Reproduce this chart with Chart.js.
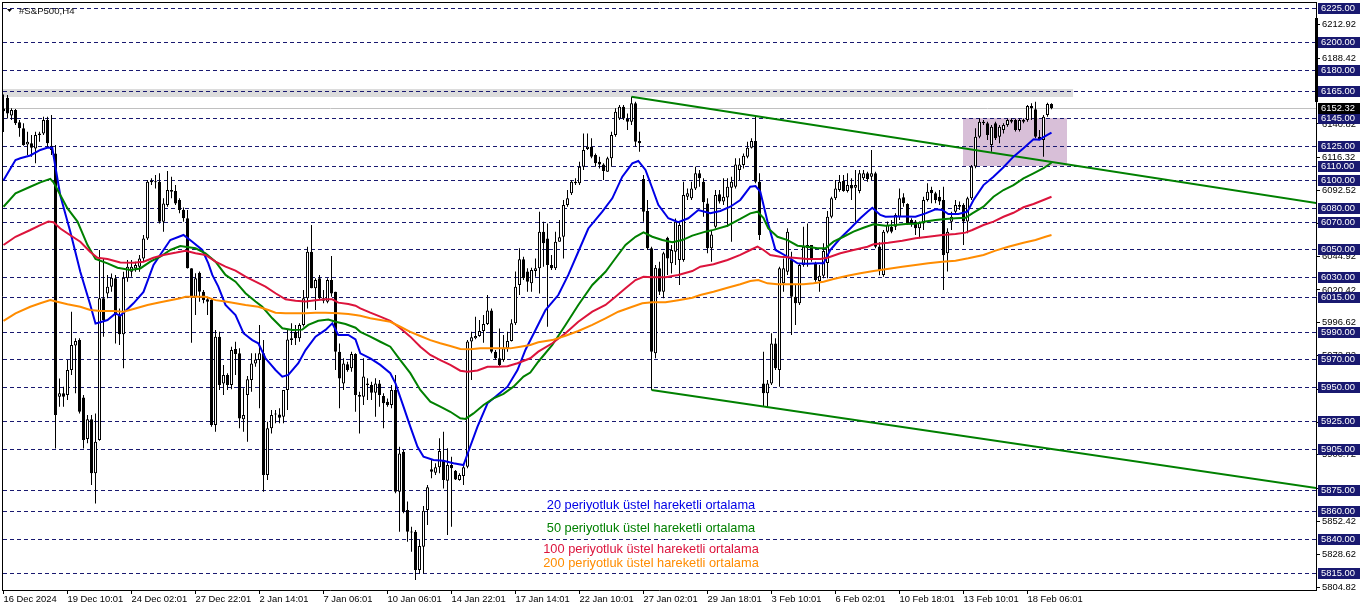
<!DOCTYPE html>
<html><head><meta charset="utf-8">
<script src="https://cdn.jsdelivr.net/npm/chart.js@4.4.1/dist/chart.umd.min.js"></script>
<style>html,body{margin:0;padding:0;background:#fff;}canvas{display:block;}</style>
</head><body>
<canvas id="c" width="1362" height="611"></canvas>
<script>
// ---------- DATA ----------
const dateLabels = ['16 Dec 2024','19 Dec 10:01','24 Dec 02:01','27 Dec 22:01','2 Jan 14:01','7 Jan 06:01','10 Jan 06:01','14 Jan 22:01','17 Jan 14:01','22 Jan 10:01','27 Jan 02:01','29 Jan 18:01','3 Feb 10:01','6 Feb 02:01','10 Feb 18:01','13 Feb 10:01','18 Feb 06:01'];
const dateTickIndex = [0,16,32,48,64,80,96,112,128,144,160,176,192,208,224,240,256];

const openP = [
6152,6159.9,6146.9,6151,6142,6137.7,6126,6126.8,6123.1,6132.8,
6134,6143.7,6125,6119.5,5942.9,5945.4,5944.1,5962.3,5980,5984.1,
5942.4,5912.2,5926.5,5887.3,5911.5,6014.3,6017.9,6022.8,6028.8,6002.2,
5988.2,6028.8,6033.6,6036,6037.3,6043.3,6057.8,6098.5,6099,6099,
6069.9,6082,6093,6092.2,6085.7,6078.4,6072.4,6036.1,6015.5,6032.9,
6019.1,6013.6,6013.1,5922.4,5986.5,5952.6,5958.7,5951.4,5977.5,5974.4,
5926.5,5944.1,5955,5967.1,5969.5,5974.4,5886.1,5920,5930,5930.1,
5928.4,5947.8,5984.1,5990.1,5985.3,5995,6014.3,6048.2,6021.6,6028.8,
6014.3,6011.9,6027.6,6019.1,5975.6,5952.6,5966.4,5963.5,5973.9,5944.2,
5942.9,5952.6,5951.4,5945.8,5952.6,5943.4,5939.3,5936.9,5947.8,5874,
5903,5860.7,5845,5845,5817.2,5834.1,5860.7,5890.2,5887.8,5891.7,
5896.3,5882,5893.4,5889.2,5882.5,5885.4,5892.1,5982.9,5985.3,5987,
5990.6,5995.7,6005.4,5975.6,5970.8,5969.6,5978,5983.3,5996.2,6024,
6042.6,6033.7,6025.2,6034.1,6036.1,6062.7,6057.8,6038.5,6036.1,6055.4,
6059,6082,6090.5,6099,6097.8,6109.8,6122.7,6124.4,6118.3,6113.5,
6111.5,6106.2,6115.9,6132.8,6144.9,6153.4,6144.9,6142.5,6155.8,6128.5,
6100.9,6077.7,6050.6,5974.4,6036.1,6019.1,6058.3,6039.7,6048.2,6042.1,
6042.1,6088.1,6086.9,6094.1,6105,6099,6083.2,6050.6,6066.3,6089.8,
6084.5,6087.4,6094.6,6095.3,6107.4,6111,6117.1,6123.6,6128.5,6099,
5952.6,5945.4,5952.6,5981.6,5962.3,6025.2,6033.6,6042.1,6015.5,6010.7,
6038.5,6050.6,6053,6039.7,6026.9,6030.7,6040,6073.6,6086.9,6092.9,
6099.4,6092.2,6096.5,6094.6,6092.2,6101.4,6105,6102.6,6105,6052,
6031.2,6062.7,6066.3,6066.3,6073.6,6087.6,6082.8,6071.2,6070,6065.1,
6068.7,6085.7,6092.9,6090.5,6088.1,6085.7,6047,6069.9,6077.2,6082,
6082,6070,6086.9,6109.9,6131.6,6141.3,6141.3,6125.6,6141.3,6131.6,
6136.5,6140.1,6142.5,6143.7,6136.5,6143.7,6143.7,6153.9,6151.5,6131.6,
6129.2,6147.3,6155.3];
const highP = [
6162.3,6161.8,6152.2,6151.7,6143.7,6141.3,6135.2,6132.8,6135.2,6135.2,
6146.1,6146.1,6147.3,6125.6,5956.2,5950.2,5969.5,6004.6,5985.3,5985.3,
5944.1,5929.6,5929.6,5930.8,6049.4,6043.3,6031.2,6032.4,6031.2,6007,
6033.6,6042.1,6042.1,6040.9,6045.7,6060.3,6100.2,6101.4,6103.8,6105,
6086.9,6106.7,6102.6,6096.5,6086.9,6080.3,6078.4,6036.1,6032.5,6033.7,
6020.4,6015.5,6014.3,5991.3,5990.1,5965.9,5959.9,5979.2,5982.8,5978,
5949,5957.9,5974.4,5974.4,5994.9,5984.1,5924.8,5933.3,5933.3,5934.5,
5947.8,5991.3,5996.2,5995,5996.2,6020.4,6051.8,6067.5,6028.8,6031.2,
6020.4,6028.8,6045,6019.1,5981.6,5970.8,5968.3,5975.6,5974.4,5946.6,
5970.8,5956.3,5953.8,5956.3,5955,5945.4,5941.7,5951.4,5958.7,5906.7,
5904.2,5866.8,5848.6,5846.2,5838.9,5863.6,5878.8,5897,5894.6,5912.7,
5917.5,5905.5,5899.4,5889.7,5887.3,5894.6,5984.1,5990.1,6001,5998.6,
6002.2,6016.7,6007,5976.8,5992.5,5987.7,5990.1,5999.1,6033.7,6050.6,
6044.5,6036.1,6036.5,6043.3,6077.2,6069.9,6068.7,6045.7,6062.7,6071.1,
6085.7,6092.9,6100.2,6101.4,6113.5,6134,6134,6130.4,6119.5,6117.1,
6112.3,6117.1,6135.2,6152.2,6154.6,6154.6,6148.5,6160.6,6157,6135.2,
6103.8,6085.7,6051.8,6038.5,6040.9,6048.2,6059,6053,6072.3,6069.9,
6099,6094.1,6099,6109.8,6107.4,6101.4,6086.9,6063.9,6092.9,6092.9,
6101.4,6101.4,6102.6,6115.9,6115.9,6119.5,6128,6130.4,6146.1,6105,
5975.6,5955,5988.9,5985.3,6037.3,6043.3,6065.1,6048.2,6024,6039.7,
6066.3,6068.7,6053,6040.9,6038.5,6054.2,6077.7,6088.1,6100.2,6103.8,
6103.8,6105,6101.4,6107.4,6107.4,6107.4,6106.2,6121.9,6106.2,6055,
6063.9,6070,6071.2,6076,6094.1,6090.5,6083.3,6072.4,6071.2,6070,
6088.1,6097.8,6095.3,6091.7,6092.9,6095.3,6065.1,6077.2,6085.7,6084.5,
6083.3,6088.1,6111.1,6137.7,6144.9,6143.7,6142.5,6140.1,6142.5,6140.1,
6141.3,6144.9,6144.9,6144.9,6144.9,6144.9,6154.6,6155.8,6157,6136.5,
6147.3,6156.3,6155.8];
const lowP = [
6135,6144.9,6143.7,6140.1,6131.6,6125.1,6118.3,6117.1,6112.3,6128,
6132.8,6124.4,6118.3,5905.4,5935.7,5935.7,5940.5,5958.7,5945.4,5930.8,
5905.4,5909.1,5878.8,5865.5,5911,5986.5,6014.3,6019.1,5981.6,5980.4,
5963.5,6026.4,6030,6033.6,6033.6,6040.9,6056.6,6096.5,6094.1,6068.7,
6062.7,6080.8,6086.9,6082,6076,6069.9,6036,5982.1,6002.2,6011.9,
6010.7,6002.2,5921.2,5917.5,5947.8,5944.1,5947.8,5948.3,5958.7,5920,
5917.5,5910.3,5946.6,5964.7,5934.5,5874,5882.5,5916.3,5923.6,5923.6,
5923.6,5933.3,5980.4,5980.4,5982.8,5993.8,6007,6021.6,6005.8,6013.1,
6010.7,6010.7,6015.5,5962.3,5934.5,5947.8,5961.1,5961.1,5932.1,5916.3,
5936.9,5940.5,5940.5,5928.4,5935.7,5920,5935.7,5934.5,5872.8,5845,
5858.3,5837.7,5830.5,5809.9,5814.7,5814.7,5849.8,5883.7,5886.1,5887.3,
5876.4,5842.5,5848.6,5882.5,5882,5878.8,5891,5955,5984.6,5986.5,
5982.1,5995,5974.4,5969.6,5964.7,5968.3,5975.6,5982.9,5995,6016.7,
6027.6,6019.1,6019.1,6030,6017.9,6037.3,5993.7,6034.9,6034.9,6055.4,
6043.3,6080.8,6089.3,6096.5,6096.5,6107.4,6121.9,6115.9,6109.8,6108.6,
6100.2,6106.2,6109.8,6131.6,6143.7,6143.7,6136.5,6140.1,6124.3,6120.7,
6069.9,6049.4,5947.8,5970.8,6016.7,6014.3,6031.2,6032.4,6038.5,6023.9,
6040.9,6085.7,6085.7,6092.9,6095.3,6073.5,6047,6040.9,6065.1,6083.2,
6082,6066.3,6055.4,6094.1,6100.2,6108.6,6115.9,6123.1,6097.8,6056.6,
5935.7,5935.7,5951.4,5962.3,5950.2,6019.1,6031.2,5987.7,5994.9,6009.5,
6037.3,6037.3,6040.9,6026.4,6019.1,6028.8,6028.8,6072.4,6085.7,6091.7,
6091.7,6091.2,6085.7,6069.9,6090.5,6100.2,6099,6100.2,6050.6,6031,
6030,6061.5,6061.5,6063.9,6071.2,6080.8,6067.5,6066.3,6060.3,6057.9,
6063.9,6084.5,6083.3,6083.3,6082,6020.4,6033.7,6063.9,6074.8,6078.4,
6053,6061.5,6085.7,6108.7,6130.4,6140.1,6129.2,6120.7,6129.2,6126.8,
6134,6138.9,6141.3,6135.3,6135.3,6141.3,6142.5,6143.7,6130.4,6129.2,
6117.1,6146.1,6151.5];
const closeP = [
6150,6148.5,6151,6141.3,6137.7,6125.6,6128,6123.6,6132.8,6134,
6143.7,6126.8,6122,5929.6,5945.4,5942.9,5962.3,5980.4,5983.3,5932.1,
5911.5,5926.5,5887.3,5910.3,6014.3,5998.6,6022.8,6029.3,6002.2,5988.2,
6029.3,6037.3,6037.3,6038.5,6043.3,6057.8,6099,6099.7,6098.5,6069.9,
6083.2,6093,6091.7,6083.2,6078.4,6072.4,6036.1,6015.5,6028.8,6019.1,
6013.1,6011.9,5922.4,5986.5,5951.4,5958.7,5951.4,5976.8,5973.9,5927.2,
5929.6,5955.6,5967.1,5970,5974.4,5886.1,5920,5929.6,5930.4,5927.7,
5947.8,5984.5,5985.3,5985.3,5995,6014.3,6048.2,6021.6,6027.6,6014.3,
6012.6,6027.6,6017.9,5975.6,5956.2,5967.1,5962.3,5973.9,5944.2,5942.9,
5957.5,5951.4,5945.8,5952.6,5944.2,5938.1,5936.9,5947.8,5874,5901.8,
5859.5,5845,5844.3,5817.2,5834.6,5860.2,5877.2,5888.5,5891.7,5903.5,
5882.5,5893.4,5891,5882.9,5886.1,5891.7,5982.9,5986,5987,5990.6,
5995.7,6005.4,5975.6,5970.8,5965.9,5978,5983.3,5996.2,6022.8,6042.6,
6028.8,6026.4,6034.9,6036.1,6062.7,6054.2,6038.5,6036.1,6055.4,6058.6,
6082,6086.9,6098.9,6097.8,6109.8,6121.9,6124.4,6117.1,6112.3,6111.5,
6106.7,6115.9,6132.8,6149.7,6153.4,6144.9,6142.5,6155.8,6128,6126.8,
6077.2,6050.6,5975.6,6036.5,6019.1,6047,6043.3,6049.4,6069.9,6067.5,
6089.3,6090.5,6094.1,6105,6101.4,6084,6050.6,6060.7,6089.3,6084.5,
6088.1,6095.3,6099,6111.5,6111.5,6117.8,6123.6,6128.5,6099,6060.3,
5945.4,5952.6,5981.6,5963.5,6036.1,6036.1,6062.7,6015.5,6010.7,6038.5,
6051.8,6053,6043.3,6027.6,6030.7,6048.7,6073.6,6086.9,6094.1,6099,
6092.2,6096.5,6094.1,6096.5,6105,6105,6100.9,6105,6051.8,6034,
6062.7,6067.5,6062.7,6074.8,6086.9,6083.3,6068.7,6068.7,6065.1,6069.2,
6085.7,6091.7,6090.5,6085.7,6084.5,6045.8,6062.7,6073.6,6082,6080.8,
6070,6086.9,6109.9,6131.6,6142.5,6142.5,6132.8,6138.9,6130.4,6138.9,
6140.1,6143.7,6143.7,6136.5,6143.7,6142.5,6153.9,6152.2,6131.6,6129.2,
6146.1,6155.3,6152.32];

// EMA readings: [bar index, value]
const ema20 = [[0,6100],[3,6114.7],[4.2,6116],[6.7,6118],[9.2,6122],[10.9,6123.6],[12.2,6123.6],[12.9,6111],[14.2,6089],[16.7,6062.7],[19.2,6033.6],[21.7,6009.5],[23,5996],[24.2,5997],[26,5998.6],[28,6003.4],[29.2,6001.6],[31,6006.5],[32.5,6010.7],[35,6019],[37.5,6038.5],[40,6049.4],[41.7,6056.6],[45,6060.3],[47.2,6055.4],[49.7,6049.4],[51.2,6039.7],[52.2,6031.3],[53.7,6022.8],[55.5,6009.5],[58,6002.2],[60,5989],[62.2,5984],[63.7,5981.7],[65.5,5970.8],[68,5962.3],[69.7,5957.5],[71.2,5958.7],[73.7,5967.2],[75.5,5976.8],[78,5986.5],[80.5,5991.4],[82.2,5996.2],[83.7,5987.7],[86.2,5987.7],[88,5984.5],[89.2,5974.4],[91.7,5970.8],[94.2,5966],[96.7,5960],[98,5952.6],[100,5935.7],[101.7,5921.2],[103.5,5906.6],[105,5899.4],[107.5,5897],[110,5896.4],[112.5,5894.6],[115,5893.3],[116.2,5903],[118.5,5921.2],[121,5938.1],[123.5,5944.2],[126,5950.2],[128.5,5962.3],[130.5,5977],[133,5991.3],[135.5,6005.8],[138.7,6016.7],[141.2,6031.3],[143.7,6048.1],[146.2,6065],[149.7,6077.2],[152.2,6086.9],[154.7,6102.6],[157.2,6112.3],[158.7,6114],[160.5,6107.5],[162.2,6094.2],[163.7,6082.2],[166.2,6072.4],[168.7,6069.5],[171.2,6072.4],[173.7,6078.4],[176.7,6076],[179.2,6077.7],[181.7,6080.8],[184.2,6085.7],[186.7,6095.3],[188,6095.8],[189.2,6091.7],[191,6070],[193,6049.4],[196,6044.5],[198.5,6039.7],[201,6039.4],[203.5,6039.7],[205,6039.7],[206.7,6049.4],[209.2,6057.9],[211.7,6065],[214.2,6072.4],[216,6077.2],[217.2,6080],[219.2,6074.8],[220.5,6073.5],[223,6073.7],[225.5,6073.7],[228,6073.5],[230.5,6076],[233,6078.9],[234.7,6078.4],[236.2,6075.5],[238.7,6075.5],[241,6077.2],[242.5,6085.7],[245,6096.5],[247.5,6102.6],[250,6109.4],[252.5,6117.1],[255,6123.2],[257.5,6129.7],[259,6129.4],[260.2,6131.6],[262,6134.5]];
const ema50 = [[0,6080.8],[3,6090.5],[6.7,6095.3],[9.2,6098.5],[11.7,6101],[12.5,6098.5],[14.2,6089.3],[16,6079.6],[18.5,6070],[21,6053],[23,6042.9],[26,6039.7],[28.5,6036.5],[31.7,6034.9],[34.2,6036],[36.7,6040.9],[39.2,6044.5],[41.7,6049.4],[44.2,6052.3],[48,6050.6],[50.5,6047],[53,6040.9],[55.5,6031.3],[58,6026.4],[60.5,6018],[63,6012],[64.7,6008.2],[67.2,5999.8],[69.7,5992.6],[72.2,5991.4],[74.7,5991.6],[76.2,5995],[78.7,5998],[81.2,5999],[83,5997.3],[85.5,5995.7],[88,5993],[89.2,5990],[91.7,5986.5],[94.2,5982.8],[96.7,5979.2],[99.2,5969.5],[101.7,5960],[104.2,5947.8],[106.7,5939.3],[109.2,5935.7],[111.7,5932],[114.2,5927.3],[115.5,5926.8],[117.5,5930.8],[120,5936.9],[122.5,5941.7],[125,5945],[127.5,5950.2],[130,5957.5],[131.7,5960.5],[133.7,5968.3],[137.2,5980.5],[140.5,5995],[143.7,6009.5],[147.2,6024],[150.5,6033.6],[153,6043.4],[155.5,6053],[158,6059],[160,6062.2],[162.2,6059],[164.7,6056.6],[167.2,6055],[169.7,6056.6],[172.2,6059.8],[175.5,6062.7],[177.5,6064],[181,6067],[184.2,6071.9],[186.7,6076],[188.5,6077.2],[190,6072.6],[191.2,6065],[193.5,6059],[196,6056.6],[198.5,6052.5],[201,6051.8],[203.5,6050.6],[205.5,6050.6],[207.5,6055.4],[210,6059],[212.5,6062.7],[215,6065.5],[217.5,6068],[220.5,6067],[223,6067.5],[225.5,6068.2],[228,6068.5],[230.5,6070],[233,6071.2],[235.5,6071.9],[238,6072.4],[240.5,6072.7],[242.2,6076],[245,6080.8],[247.5,6088],[250,6092.9],[252.5,6096.5],[255,6101.4],[257.5,6105],[260,6108.7],[262,6112.7]];
const ema100 = [[0,6053],[3,6059],[6.7,6063.9],[9.2,6067.5],[11.2,6070],[12.5,6069.5],[14.2,6065],[16.7,6060.1],[19.2,6055.4],[21.7,6048],[23.5,6043.8],[26,6042.9],[29.2,6040.4],[32.5,6040.2],[35,6040.9],[37.5,6043.8],[40,6045.8],[43.2,6047.5],[45.5,6048.9],[48,6047],[50.5,6045.8],[53,6040.9],[55.5,6037.3],[58,6034.4],[60.5,6030],[63,6026.4],[65.5,6022.8],[68,6018],[70.5,6013.6],[73,6012.6],[75.5,6012],[78,6013],[80.5,6013.6],[82.2,6013.6],[83.7,6011.2],[86.2,6010.2],[88,6009],[89.2,6007],[91.7,6003.9],[94.2,6001],[96.7,5998],[99.2,5992.6],[101.7,5986.5],[104.2,5979.2],[106.7,5973.2],[109.2,5969.5],[111.7,5966],[114.2,5961.8],[116,5961],[118.5,5962],[121,5964.7],[123.5,5964.7],[126,5965],[128.5,5967.2],[131.7,5970.8],[133.7,5975.6],[137.2,5981.7],[140.5,5989],[143.7,5997.3],[147.2,6004.6],[150.5,6009.5],[153,6015.5],[155.5,6021.6],[158,6027.6],[160,6030],[162.2,6029.6],[165.5,6029.6],[168.7,6031.3],[172.2,6034.1],[174.2,6037.3],[177.5,6039],[181,6042.1],[184.2,6045.8],[186.7,6049.4],[188.5,6051.8],[190,6049.4],[191.7,6045.8],[194.2,6044.5],[197.5,6043.8],[201,6042.9],[204.2,6042.9],[206,6043.8],[209.2,6047],[212.5,6049.4],[216,6051.8],[217.5,6053.5],[221.2,6054.7],[224.7,6056.1],[228,6057.9],[231.2,6059],[234.7,6060.3],[238,6061],[240.5,6062],[242.2,6063.9],[245,6067.5],[247.5,6070],[250,6073.5],[252.5,6076.4],[255,6080.4],[257.5,6082.8],[260,6085.7],[262,6088]];
const ema200 = [[0,5997.9],[3,6003.4],[6.7,6008.2],[9.2,6010.7],[11.7,6013],[12.9,6012.2],[16,6010],[19.2,6008.2],[21.7,6005.8],[24.2,6005.1],[27.5,6005.1],[30,6004.6],[32.5,6006.6],[36,6009.5],[39.2,6011.4],[44.2,6014.3],[45.5,6015.5],[48,6015.5],[50.5,6015.5],[53,6013],[55.5,6012],[58,6010.7],[60.5,6009.5],[63.7,6008.2],[66.2,6005.8],[68,6003.9],[70.5,6003.4],[73,6003.4],[75.5,6003.4],[78,6003.9],[80.5,6003.9],[83.7,6003.4],[86.2,6003],[88,6002.2],[89.2,6001.6],[91.7,5999.8],[94.2,5998.6],[96.7,5997.3],[99.2,5993.7],[101.7,5990],[104.2,5987],[106.7,5984],[109.2,5981.7],[111.7,5979.7],[114.2,5977.5],[116.7,5977.3],[119.2,5978],[124.2,5978],[126.7,5978],[129.2,5979.2],[131.7,5980.4],[133.7,5982.4],[137.2,5984],[140.5,5987.2],[143.7,5990.6],[147.2,5995],[150.5,5999.8],[153.7,6004.6],[157.2,6008.2],[159.7,6010.7],[162.2,6011.4],[165.5,6011.4],[168.7,6013],[172.2,6014.8],[174.2,6016.7],[177.5,6019.1],[181,6022],[184.2,6024.5],[186.7,6026.9],[188.7,6027.6],[191,6025.2],[193.5,6024.5],[196.7,6024.5],[200,6024.5],[202.5,6025.2],[205,6026.4],[207.5,6028.3],[211,6030.7],[214.2,6032.5],[217.5,6034.1],[220.5,6035.4],[224.7,6037.3],[228,6038.5],[231.2,6039.7],[234.7,6040.9],[238,6041.6],[241.2,6043.4],[245,6045.8],[248,6048.9],[251.2,6051.8],[255,6054.7],[258,6056.6],[260.5,6059],[262,6060.3]];

const upperTrend = [[157,6160.6],[328.2,6083.5]];
const lowerTrend = [[162,5947.8],[328.2,5876.7]];
const levels = [6225,6200,6180,6165,6145,6125,6110,6100,6080,6070,6050,6030,6015,5990,5970,5950,5925,5905,5875,5860,5840,5815];
const axisTicks = [6212.92,6188.42,6164.62,6140.82,6116.32,6092.52,6068.72,6044.92,6020.42,5996.62,5972.82,5948.32,5924.52,5900.72,5876.22,5852.42,5828.62,5804.82];
const lastPrice = 6152.32;
const bandPrices = [6166, 6160.3];
const bandBars = [-0.4, 267.4];
const boxPrices = [6145, 6110];
const boxBars = [239.9, 265.9];
const legendTexts = ['20 periyotluk üstel hareketli ortalama','50 periyotluk üstel hareketli ortalama','100 periyotluk üstel hareketli ortalama','200 periyotluk üstel hareketli ortalama'];
const symbolTitle = '#S&P500,H4';

// ---------- STYLE ----------
const NAVY = 'rgb(25,25,112)';
const C20 = 'rgb(0,0,230)', C50 = 'rgb(0,128,0)', C100 = 'rgb(220,20,60)', C200 = 'rgb(255,140,0)';
const AXFONT = '9.4px "Liberation Sans"';
Chart.defaults.font.family = '"Liberation Sans", Arial, sans-serif';

const toXY = arr => arr.map(([x, y]) => ({x, y}));
const wickData = highP.map((h, i) => ({x: i, y: [lowP[i], h]}));
const bodyData = openP.map((o, i) => ({x: i, y: [o, closeP[i]]}));
const bodyFill = openP.map((o, i) => closeP[i] >= o ? '#ffffff' : '#000000');

const overlay = {
  id: 'overlay',
  beforeDatasetsDraw(chart) {
    const {ctx, chartArea: a, scales: {x, y}} = chart;
    ctx.save();
    ctx.beginPath(); ctx.rect(a.left, a.top, a.right - a.left, a.bottom - a.top); ctx.clip();
    ctx.fillStyle = '#dcdcdc';
    let x1 = x.getPixelForValue(bandBars[0]), x2 = x.getPixelForValue(bandBars[1]);
    let y1 = y.getPixelForValue(bandPrices[0]), y2 = y.getPixelForValue(bandPrices[1]);
    ctx.fillRect(x1, Math.round(y1), x2 - x1, Math.round(y2 - y1));
    ctx.fillStyle = 'rgb(216,191,216)';
    x1 = Math.round(x.getPixelForValue(boxBars[0])); x2 = Math.round(x.getPixelForValue(boxBars[1]));
    y1 = Math.round(y.getPixelForValue(boxPrices[0])); y2 = Math.round(y.getPixelForValue(boxPrices[1]));
    ctx.fillRect(x1, y1, x2 - x1, y2 - y1);
    ctx.strokeStyle = '#c0c0c0'; ctx.lineWidth = 1;
    let py = Math.round(y.getPixelForValue(lastPrice)) + 0.5;
    ctx.beginPath(); ctx.moveTo(a.left, py); ctx.lineTo(a.right, py); ctx.stroke();
    ctx.strokeStyle = NAVY; ctx.setLineDash([4, 3]);
    levels.forEach(v => {
      const yy = Math.round(y.getPixelForValue(v)) + 0.5;
      ctx.beginPath(); ctx.moveTo(a.left + 1, yy); ctx.lineTo(a.right, yy); ctx.stroke();
    });
    ctx.restore();
  },
  afterDraw(chart) {
    const {ctx, chartArea: a, scales: {x, y}} = chart;
    ctx.save();
    ctx.strokeStyle = '#000'; ctx.lineWidth = 1;
    ctx.beginPath(); ctx.moveTo(a.left + 0.5, a.top); ctx.lineTo(a.left + 0.5, a.bottom + 1);
    ctx.moveTo(a.left, a.top + 0.5); ctx.lineTo(a.right + 1, a.top + 0.5); ctx.stroke();
    ctx.fillStyle = '#000';
    ctx.fillRect(a.right - 1, 18, 3, 84);
    ctx.font = AXFONT; ctx.textBaseline = 'middle'; ctx.textAlign = 'left';
    const boxLabel = (v, bg) => {
      const yy = Math.round(y.getPixelForValue(v));
      ctx.fillStyle = bg; ctx.fillRect(a.right + 2, yy - 5, 42, 11);
      ctx.fillStyle = '#fff'; ctx.fillText(v.toFixed(2), a.right + 5, yy + 0.5);
    };
    levels.forEach(v => boxLabel(v, NAVY));
    boxLabel(lastPrice, '#000');
    ctx.fillStyle = '#000';
    ctx.beginPath(); ctx.moveTo(7, 9); ctx.lineTo(12, 9); ctx.lineTo(9.5, 12); ctx.closePath(); ctx.fill();
    ctx.font = '9.6px "Liberation Sans"'; ctx.fillStyle = '#111';
    ctx.fillText(symbolTitle, 19, 11);
    ctx.font = '12.8px "Liberation Sans"'; ctx.textAlign = 'center';
    const lx = 651, ly = [505, 528, 549, 563], lc = [C20, C50, C100, C200];
    legendTexts.forEach((t, k) => { ctx.fillStyle = lc[k]; ctx.fillText(t, lx, ly[k]); });
    ctx.restore();
  }
};

const lineDs = (data, color, order) => ({type: 'line', data: toXY(data), borderColor: color, borderWidth: 2, pointRadius: 0, fill: false, tension: 0, order});

new Chart(document.getElementById('c'), {
  type: 'bar',
  data: {
    datasets: [
      lineDs(ema200, C200, 1), lineDs(ema100, C100, 1), lineDs(ema50, C50, 1), lineDs(ema20, C20, 1),
      lineDs(upperTrend, C50, 2), lineDs(lowerTrend, C50, 2),
      {type: 'bar', data: bodyData, backgroundColor: bodyFill, borderColor: '#000', borderWidth: 1, borderSkipped: false,
       barThickness: 3, maxBarThickness: 3, minBarLength: 1, grouped: false, inflateAmount: 0, order: 3},
      {type: 'bar', data: wickData, backgroundColor: '#000', borderWidth: 0, barThickness: 1, maxBarThickness: 1,
       grouped: false, inflateAmount: 0, order: 4}
    ]
  },
  options: {
    responsive: false, animation: false, devicePixelRatio: 1, events: [],
    layout: {padding: {left: 2, top: 2, right: 0, bottom: 0}},
    plugins: {legend: {display: false}, tooltip: {enabled: false}},
    scales: {
      x: {
        type: 'linear', min: -0.375, max: 328.125, offset: false,
        afterBuildTicks: s => { s.ticks = dateTickIndex.map(v => ({value: v})); },
        afterFit: s => { s.height = 21; s.paddingLeft = 0; s.paddingRight = 0; },
        ticks: {autoSkip: false, maxRotation: 0, align: 'start', padding: 0, color: '#000', font: {size: 9.4},
                callback: (v, i) => dateLabels[i]},
        grid: {drawOnChartArea: false, drawTicks: true, tickLength: 4, color: '#000', offset: false},
        border: {display: true, color: '#000'}
      },
      y: {
        position: 'right', min: 5802.66, max: 6229.35,
        afterBuildTicks: s => { s.ticks = axisTicks.map(v => ({value: v})); },
        afterFit: s => { s.width = 46; s.paddingTop = 0; s.paddingBottom = 0; },
        ticks: {autoSkip: false, padding: 2, color: '#000', font: {size: 9.4}, callback: v => v.toFixed(2)},
        grid: {drawOnChartArea: false, drawTicks: true, tickLength: 4, color: '#000'},
        border: {display: true, color: '#000'}
      }
    }
  },
  plugins: [overlay]
});
</script>
</body></html>
